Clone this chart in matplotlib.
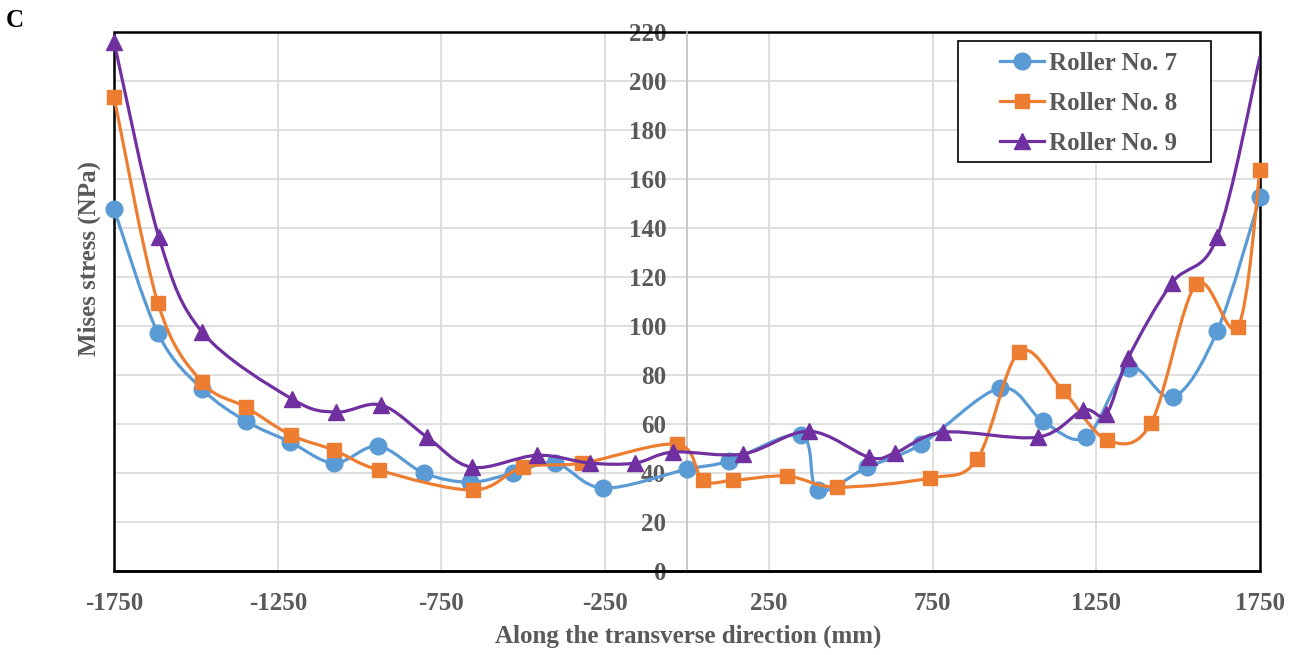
import numpy as np
import matplotlib.pyplot as plt
from matplotlib.path import Path
from matplotlib.patches import PathPatch, Rectangle
import matplotlib.lines as mlines

plt.rcParams['font.family'] = ['Liberation Serif', 'DejaVu Serif']
plt.rcParams['font.weight'] = 'bold'
plt.rcParams['axes.unicode_minus'] = False

# data (position in mm, Mises stress)
x7 = [-1750, -1616, -1481, -1347, -1212, -1078, -944, -803, -663, -531, -403, -256,
      0, 128, 348, 400, 550, 715, 956, 1087, 1219, 1350, 1485, 1619, 1750]
y7 = [147.8, 97.1, 74.3, 61.2, 52.7, 44.1, 51.0, 40.0, 36.3, 40.0, 44.1, 33.9,
      41.6, 44.9, 55.5, 33.0, 42.4, 51.8, 74.7, 61.2, 54.7, 82.9, 71.0, 98.0, 152.6]

x8 = [-1750, -1616, -1481, -1347, -1209, -1078, -940, -653, -501, -320, -30, 49,
      141, 305, 458, 742, 886, 1014, 1149, 1283, 1417, 1555, 1683, 1750]
y8 = [193.5, 109.4, 77.1, 66.9, 55.5, 49.4, 41.2, 33.1, 42.4, 44.1, 51.8, 37.1,
      37.1, 38.8, 34.3, 38.0, 45.7, 89.4, 73.5, 53.5, 60.4, 117.1, 99.8, 163.7]

x9 = [-1750, -1613, -1481, -1206, -1072, -934, -794, -657, -458, -296, -159, -43,
      171, 373, 556, 635, 782, 1072, 1210, 1280, 1347, 1481, 1619, 1750]
y9 = [216.0, 136.3, 97.6, 70.2, 64.9, 67.8, 54.7, 42.4, 47.3, 44.1, 44.1, 48.6,
      47.8, 57.1, 46.5, 48.2, 56.7, 54.7, 65.7, 64.1, 86.9, 117.6, 136.3, 210.0]

names = ['Roller No. 7', 'Roller No. 8', 'Roller No. 9']
colors = ['#5B9BD5', '#ED7D31', '#7030A0']
markers = ['o', 's', '^']
msizes = [12, 10, 12]
xticks = [-1750, -1250, -750, -250, 250, 750, 1250, 1750]
yticks = list(range(0, 221, 20))

txt = '#595959'


def smooth_path(x, y):
    # excel-like smoothed line: cubic bezier through every point
    pts = np.column_stack([x, y]).astype(float)
    n = len(pts)
    verts = [pts[0]]
    codes = [Path.MOVETO]
    for i in range(n - 1):
        p0 = pts[max(i - 1, 0)]
        p1 = pts[i]
        p2 = pts[i + 1]
        p3 = pts[min(i + 2, n - 1)]
        verts += [p1 + (p2 - p0) / 6, p2 - (p3 - p1) / 6, p2]
        codes += [Path.CURVE4] * 3
    return Path(verts, codes)


fig = plt.figure(figsize=(12.99, 6.55), dpi=100)
ax = fig.add_axes([0.0878, 0.128, 0.8822, 0.823])

series = [(x7, y7), (x8, y8), (x9, y9)]
handles_ = []
for k, (xs, ys) in enumerate(series):
    patch = PathPatch(smooth_path(xs, ys), fill=False, ec=colors[k], lw=2.3,
                      zorder=3 + k, capstyle='round', joinstyle='round')
    ax.add_patch(patch)
    every = list(range(len(xs) - 1)) if k == 2 else None  # no marker on last purple point
    ax.plot(xs, ys, linestyle='none', marker=markers[k], ms=msizes[k],
            color=colors[k], markevery=every, zorder=3.5 + k, clip_on=False)
    handles_.append(mlines.Line2D([], [], color=colors[k], lw=2.3, marker=markers[k],
                                  ms=msizes[k], label=names[k]))

ax.set_xlim(-1750, 1750)
ax.set_ylim(0, 220)
ax.set_xticks(xticks)
ax.set_yticks(yticks)
ax.grid(True, color='#D9D9D9', lw=1.2, zorder=0)
ax.set_axisbelow(True)

# vertical value axis sits at x = 0, like the original
ax.spines['left'].set_position(('data', 0))
ax.spines['left'].set_color('#BFBFBF')
ax.spines['left'].set_linewidth(1.2)
for s in ['top', 'right']:
    ax.spines[s].set_visible(False)
ax.spines['bottom'].set_color('black')
ax.spines['bottom'].set_linewidth(1.8)
ax.add_patch(Rectangle((0, 0), 1, 1, transform=ax.transAxes, fill=False,
                       ec='black', lw=1.8, clip_on=False, zorder=2))

ax.tick_params(axis='both', length=0, labelsize=18, labelcolor=txt)
ax.tick_params(axis='x', pad=15)
ax.tick_params(axis='y', pad=15)
for lab in ax.get_xticklabels() + ax.get_yticklabels():
    lab.set_fontweight('bold')

fig.text(0.5296, 0.029, 'Along the transverse direction (mm)', ha='center', va='center',
         fontsize=18, color=txt)
fig.text(0.069, 0.606, 'Mises stress (NPa)', ha='center', va='center', rotation=90,
         fontsize=18, color=txt)
fig.text(0.0115, 0.969, 'C', ha='center', va='center', fontsize=18, color='black')

# legend box drawn separately so the padding matches the original
fig.patches.append(Rectangle((958 / 1299, 1 - 162 / 655), 253 / 1299, 121 / 655,
                             transform=fig.transFigure, fill=True, fc='white',
                             ec='black', lw=1.2, zorder=5))
leg = fig.legend(handles=handles_, loc='upper left', bbox_to_anchor=(0.7698, 0.9204),
                 bbox_transform=fig.transFigure, frameon=False,
                 fontsize=18, handlelength=1.75, borderaxespad=0, borderpad=0,
                 labelspacing=0.68, handletextpad=0.2)
leg.set_zorder(6)
for t in leg.get_texts():
    t.set_color(txt)

plt.savefig('out.png', dpi=100)
